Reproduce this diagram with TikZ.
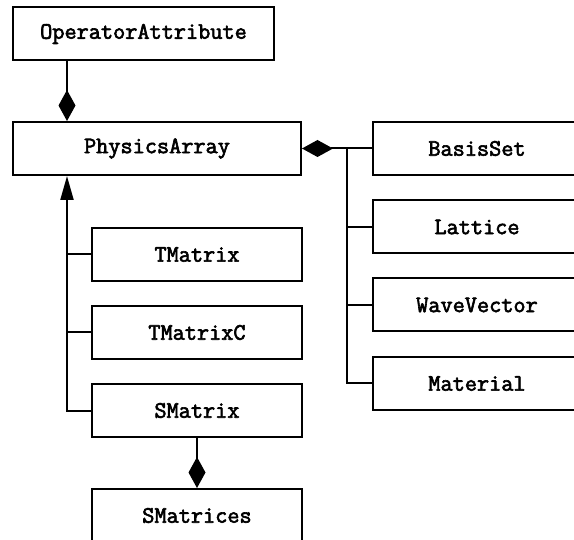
\documentclass[tikz,border=0pt]{standalone}
\usepackage{fontspec}
\newfontfamily\clsfont[FakeBold=2.6]{Latin Modern Mono}
\usetikzlibrary{arrows.meta}

\tikzset{
  cls/.style={draw, line width=1pt, rectangle, inner sep=0pt,
              minimum height=26.5pt, font=\clsfont\fontsize{11.8}{13}\selectfont},
  comp/.style={line width=1pt, {Diamond[length=15.5pt, width=8.5pt]}-},
  inh/.style={line width=1pt, -{Triangle[length=12pt, width=6.5pt]}},
  link/.style={line width=1pt}
}

\begin{document}
\begin{tikzpicture}[x=0.5pt, y=-0.5pt]
  % Frame
  \useasboundingbox (0,0) rectangle (574,540);
  \clip (0,0) rectangle (574,540);

  % Classes
  \node[cls, minimum width=130.5pt] (oa) at (143.5,34) {OperatorAttribute};
  \node[cls, minimum width=144pt] (pa) at (157,148.5) {PhysicsArray};

  \node[cls, minimum width=104pt] (bs) at (477,148.5) {BasisSet};
  \node[cls, minimum width=104pt] (lat) at (477,227) {Lattice};
  \node[cls, minimum width=104pt] (wv) at (477,305) {WaveVector};
  \node[cls, minimum width=104pt] (mat) at (477,383.5) {Material};

  \node[cls, minimum width=105pt] (tm) at (197,254.5) {TMatrix};
  \node[cls, minimum width=105pt] (tmc) at (197,332.5) {TMatrixC};
  \node[cls, minimum width=105pt] (sm) at (197,410.5) {SMatrix};
  \node[cls, minimum width=105pt] (sms) at (197,515.5) {SMatrices};

  % Trunks
  \coordinate (lt) at (67,300);
  \coordinate (rt) at (347,300);

  % Composition
  \draw[comp] (pa.north -| lt) -- (oa.south -| lt);
  \draw[comp] (sms.north) -- (sm.south);
  \draw[comp] (pa.east) -- (bs.west);
  \draw[link] (mat.west) -| (bs.west -| rt);
  \draw[link] (lat.west) -- (lat.west -| rt);
  \draw[link] (wv.west) -- (wv.west -| rt);

  % Inheritance
  \draw[inh] (sm.west) -| (pa.south -| lt);
  \draw[link] (tm.west) -- (tm.west -| lt);
  \draw[link] (tmc.west) -- (tmc.west -| lt);
\end{tikzpicture}
\end{document}
